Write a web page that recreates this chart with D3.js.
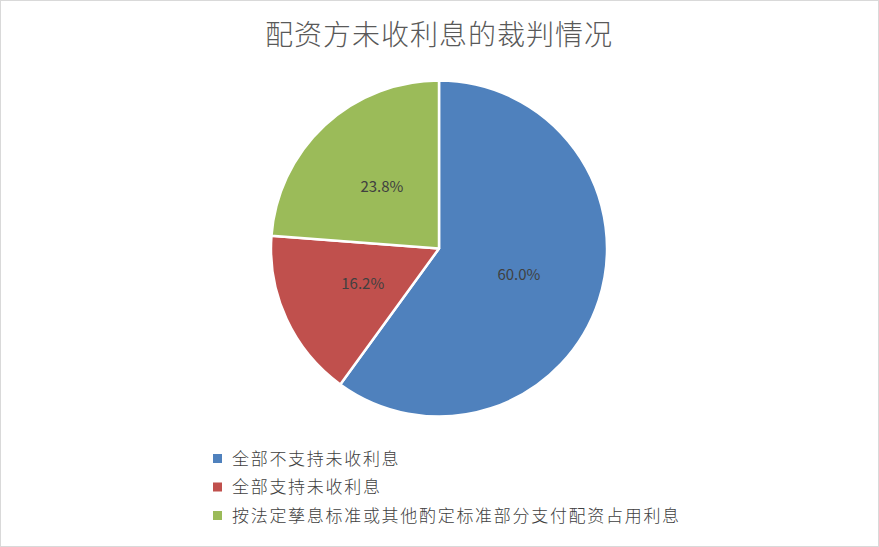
<!DOCTYPE html>
<html>
<head>
<meta charset="utf-8">
<script src="https://cdn.jsdelivr.net/npm/d3@7"></script>
<style>
  html, body { margin: 0; padding: 0; background: #fff; }
  svg { display: block; font-family: "Noto Sans CJK SC", "Noto Sans", sans-serif; }
</style>
</head>
<body>
<svg id="chart"></svg>
<script>
const title = "配资方未收利息的裁判情况";
const categories = ["全部不支持未收利息", "全部支持未收利息", "按法定孳息标准或其他酌定标准部分支付配资占用利息"];
const shares = [60.0, 16.2, 23.8];
const colors = ["#4F81BD", "#C0504D", "#9BBB59"];

(() => {
    const W = 879, H = 547;
    const svg = d3.select("#chart")
        .attr("width", W)
        .attr("height", H);

    // chart frame
    svg.append("rect")
        .attr("x", 0.5).attr("y", 0.5)
        .attr("width", W - 1).attr("height", H - 1)
        .attr("fill", "#fff")
        .attr("stroke", "#d9d9d9");

    svg.append("text")
        .attr("x", 439)
        .attr("y", 45)
        .attr("text-anchor", "middle")
        .attr("font-size", 28)
        .attr("font-weight", 300)
        .attr("letter-spacing", 1)
        .attr("fill", "#595959")
        .text(title);

    const data = categories.map((c, i) => ({name: c, value: shares[i], color: colors[i]}));
    const radius = 168;
    const pie = d3.pie().sort(null).value(d => d.value);
    const arc = d3.arc().innerRadius(0).outerRadius(radius);
    const g = svg.append("g")
        .attr("transform", "translate(439, 248.5)");

    const slices = g.selectAll("g.slice")
        .data(pie(data))
        .join("g")
        .attr("class", "slice");
    slices.append("path")
        .attr("d", arc)
        .attr("fill", d => d.data.color)
        .attr("stroke", "#fff")
        .attr("stroke-width", 2.5)
        .attr("stroke-linejoin", "round");
    slices.append("text")
        .attr("transform", d => `translate(${arc.centroid(d)})`)
        .attr("text-anchor", "middle")
        .attr("dy", "0.35em")
        .attr("font-size", 15)
        .attr("fill", "#404040")
        .text(d => d.data.value.toFixed(1) + "%");

    // legend
    const legend = svg.append("g")
        .attr("transform", "translate(213, 459)");
    const rows = legend.selectAll("g")
        .data(data)
        .join("g")
        .attr("transform", (d, i) => `translate(0, ${i * 28.5})`);
    rows.append("rect")
        .attr("x", 0).attr("y", -5)
        .attr("width", 9).attr("height", 9)
        .attr("fill", d => d.color);
    rows.append("text")
        .attr("x", 19)
        .attr("dy", "0.35em")
        .attr("font-size", 17)
        .attr("font-weight", 300)
        .attr("letter-spacing", 1.7)
        .attr("fill", "#404040")
        .text(d => d.name);
})();
</script>
</body>
</html>
